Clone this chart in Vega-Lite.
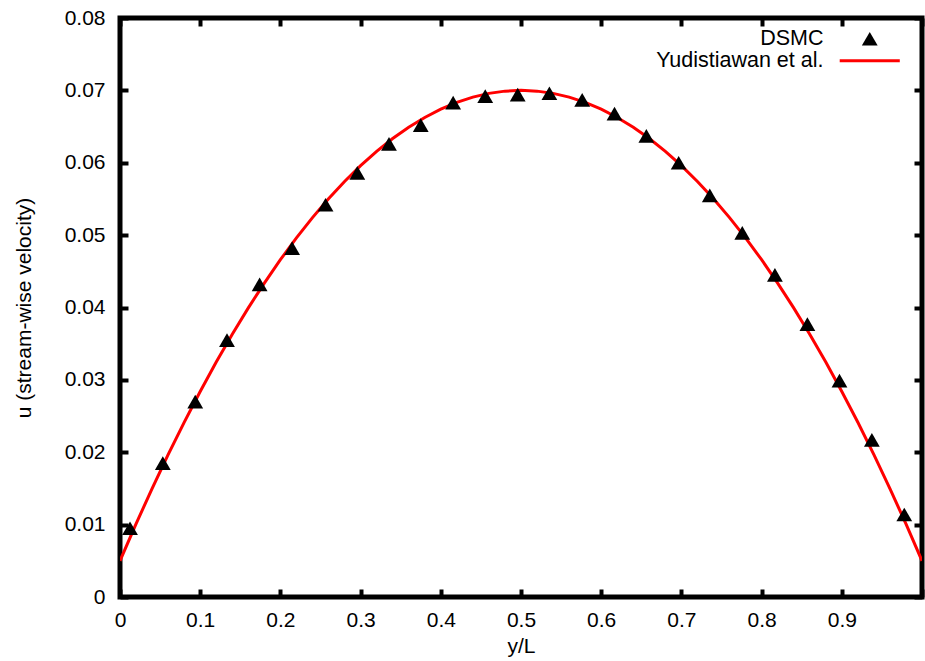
{
  "$schema": "https://vega.github.io/schema/vega-lite/v6.json",
  "width": 802,
  "height": 579,
  "autosize": {"type": "none"},
  "padding": {"left": 120, "top": 18, "right": 3, "bottom": 64},
  "background": "white",
  "config": {
    "view": {"stroke": "black", "strokeWidth": 5},
    "font": "Liberation Sans",
    "axis": {
      "grid": false,
      "domain": false,
      "tickColor": "black",
      "tickWidth": 4,
      "tickSize": -8,
      "labelColor": "black",
      "labelFont": "Liberation Sans",
      "labelFontSize": 21,
      "titleFont": "Liberation Sans",
      "titleFontSize": 21,
      "titleFontWeight": "normal",
      "titleColor": "black"
    }
  },
  "datasets": {
    "dsmc": [
      {"x": 0.0125, "u": 0.0095, "series": "DSMC"},
      {"x": 0.0534, "u": 0.0185, "series": "DSMC"},
      {"x": 0.0938, "u": 0.0270, "series": "DSMC"},
      {"x": 0.1334, "u": 0.0355, "series": "DSMC"},
      {"x": 0.1741, "u": 0.0432, "series": "DSMC"},
      {"x": 0.2146, "u": 0.0482, "series": "DSMC"},
      {"x": 0.2563, "u": 0.0542, "series": "DSMC"},
      {"x": 0.2959, "u": 0.0586, "series": "DSMC"},
      {"x": 0.3354, "u": 0.0626, "series": "DSMC"},
      {"x": 0.3750, "u": 0.0652, "series": "DSMC"},
      {"x": 0.4154, "u": 0.0683, "series": "DSMC"},
      {"x": 0.4554, "u": 0.0692, "series": "DSMC"},
      {"x": 0.4959, "u": 0.0694, "series": "DSMC"},
      {"x": 0.5354, "u": 0.0696, "series": "DSMC"},
      {"x": 0.5763, "u": 0.0687, "series": "DSMC"},
      {"x": 0.6166, "u": 0.0668, "series": "DSMC"},
      {"x": 0.6563, "u": 0.0637, "series": "DSMC"},
      {"x": 0.6966, "u": 0.0600, "series": "DSMC"},
      {"x": 0.7354, "u": 0.0555, "series": "DSMC"},
      {"x": 0.7759, "u": 0.0503, "series": "DSMC"},
      {"x": 0.8166, "u": 0.0445, "series": "DSMC"},
      {"x": 0.8571, "u": 0.0377, "series": "DSMC"},
      {"x": 0.8971, "u": 0.0299, "series": "DSMC"},
      {"x": 0.9375, "u": 0.0217, "series": "DSMC"},
      {"x": 0.9779, "u": 0.0114, "series": "DSMC"}
    ],
    "curve": [
      {"x": 0.00, "u": 0.005000, "series": "Yudistiawan et al."},
      {"x": 0.02, "u": 0.010096, "series": "Yudistiawan et al."},
      {"x": 0.04, "u": 0.014984, "series": "Yudistiawan et al."},
      {"x": 0.06, "u": 0.019664, "series": "Yudistiawan et al."},
      {"x": 0.08, "u": 0.024136, "series": "Yudistiawan et al."},
      {"x": 0.10, "u": 0.028400, "series": "Yudistiawan et al."},
      {"x": 0.12, "u": 0.032456, "series": "Yudistiawan et al."},
      {"x": 0.14, "u": 0.036304, "series": "Yudistiawan et al."},
      {"x": 0.16, "u": 0.039944, "series": "Yudistiawan et al."},
      {"x": 0.18, "u": 0.043376, "series": "Yudistiawan et al."},
      {"x": 0.20, "u": 0.046600, "series": "Yudistiawan et al."},
      {"x": 0.22, "u": 0.049616, "series": "Yudistiawan et al."},
      {"x": 0.24, "u": 0.052424, "series": "Yudistiawan et al."},
      {"x": 0.26, "u": 0.055024, "series": "Yudistiawan et al."},
      {"x": 0.28, "u": 0.057416, "series": "Yudistiawan et al."},
      {"x": 0.30, "u": 0.059600, "series": "Yudistiawan et al."},
      {"x": 0.32, "u": 0.061576, "series": "Yudistiawan et al."},
      {"x": 0.34, "u": 0.063344, "series": "Yudistiawan et al."},
      {"x": 0.36, "u": 0.064904, "series": "Yudistiawan et al."},
      {"x": 0.38, "u": 0.066256, "series": "Yudistiawan et al."},
      {"x": 0.40, "u": 0.067400, "series": "Yudistiawan et al."},
      {"x": 0.42, "u": 0.068336, "series": "Yudistiawan et al."},
      {"x": 0.44, "u": 0.069064, "series": "Yudistiawan et al."},
      {"x": 0.46, "u": 0.069584, "series": "Yudistiawan et al."},
      {"x": 0.48, "u": 0.069896, "series": "Yudistiawan et al."},
      {"x": 0.50, "u": 0.070000, "series": "Yudistiawan et al."},
      {"x": 0.52, "u": 0.069896, "series": "Yudistiawan et al."},
      {"x": 0.54, "u": 0.069584, "series": "Yudistiawan et al."},
      {"x": 0.56, "u": 0.069064, "series": "Yudistiawan et al."},
      {"x": 0.58, "u": 0.068336, "series": "Yudistiawan et al."},
      {"x": 0.60, "u": 0.067400, "series": "Yudistiawan et al."},
      {"x": 0.62, "u": 0.066256, "series": "Yudistiawan et al."},
      {"x": 0.64, "u": 0.064904, "series": "Yudistiawan et al."},
      {"x": 0.66, "u": 0.063344, "series": "Yudistiawan et al."},
      {"x": 0.68, "u": 0.061576, "series": "Yudistiawan et al."},
      {"x": 0.70, "u": 0.059600, "series": "Yudistiawan et al."},
      {"x": 0.72, "u": 0.057416, "series": "Yudistiawan et al."},
      {"x": 0.74, "u": 0.055024, "series": "Yudistiawan et al."},
      {"x": 0.76, "u": 0.052424, "series": "Yudistiawan et al."},
      {"x": 0.78, "u": 0.049616, "series": "Yudistiawan et al."},
      {"x": 0.80, "u": 0.046600, "series": "Yudistiawan et al."},
      {"x": 0.82, "u": 0.043376, "series": "Yudistiawan et al."},
      {"x": 0.84, "u": 0.039944, "series": "Yudistiawan et al."},
      {"x": 0.86, "u": 0.036304, "series": "Yudistiawan et al."},
      {"x": 0.88, "u": 0.032456, "series": "Yudistiawan et al."},
      {"x": 0.90, "u": 0.028400, "series": "Yudistiawan et al."},
      {"x": 0.92, "u": 0.024136, "series": "Yudistiawan et al."},
      {"x": 0.94, "u": 0.019664, "series": "Yudistiawan et al."},
      {"x": 0.96, "u": 0.014984, "series": "Yudistiawan et al."},
      {"x": 0.98, "u": 0.010096, "series": "Yudistiawan et al."},
      {"x": 1.00, "u": 0.005000, "series": "Yudistiawan et al."}
    ]
  },
  "resolve": {"axis": {"x": "independent", "y": "independent"}},
  "layer": [
    {
      "data": {"name": "curve"},
      "mark": {"type": "line", "strokeWidth": 3, "color": "#ff0000", "clip": true},
      "encoding": {
        "x": {
          "field": "x", "type": "quantitative",
          "scale": {"domain": [0, 1], "nice": false, "zero": false},
          "axis": {
            "orient": "bottom",
            "values": [0, 0.1, 0.2, 0.3, 0.4, 0.5, 0.6, 0.7, 0.8, 0.9, 1],
            "labelExpr": "datum.value >= 0.99 ? '' : format(datum.value, '~g')",
            "labelPadding": 20,
            "labelFlush": false,
            "labelOverlap": false,
            "title": "y/L",
            "titlePadding": 5
          }
        },
        "y": {
          "field": "u", "type": "quantitative",
          "scale": {"domain": [0, 0.08], "nice": false, "zero": false},
          "axis": {
            "orient": "left",
            "values": [0, 0.01, 0.02, 0.03, 0.04, 0.05, 0.06, 0.07, 0.08],
            "format": "~g",
            "labelPadding": 23,
            "labelFlush": false,
            "labelOverlap": false,
            "title": "u (stream-wise velocity)",
            "titlePadding": 30
          }
        },
        "order": {"field": "x", "type": "quantitative"}
      }
    },
    {
      "data": {"name": "dsmc"},
      "mark": {"type": "point", "filled": true, "opacity": 1, "size": 250, "clip": true},
      "encoding": {
        "x": {
          "field": "x", "type": "quantitative",
          "axis": {
            "orient": "top",
            "values": [0, 0.1, 0.2, 0.3, 0.4, 0.5, 0.6, 0.7, 0.8, 0.9, 1],
            "labels": false,
            "title": null
          }
        },
        "y": {
          "field": "u", "type": "quantitative",
          "axis": {
            "orient": "right",
            "values": [0, 0.01, 0.02, 0.03, 0.04, 0.05, 0.06, 0.07, 0.08],
            "labels": false,
            "title": null
          }
        },
        "color": {
          "field": "series", "type": "nominal",
          "scale": {"domain": ["DSMC", "Yudistiawan et al."], "range": ["black", "#ff0000"]},
          "legend": {
            "title": null,
            "orient": "none",
            "legendX": 739,
            "legendY": 10,
            "padding": 0,
            "symbolSize": 250,
            "labelFont": "Liberation Sans",
            "labelFontSize": 21.5,
            "labelColor": "black",
            "labelAlign": "right",
            "labelOffset": -57,
            "labelLimit": 400,
            "rowPadding": -2,
            "symbolOpacity": 1,
            "encode": {
              "symbols": {
                "update": {
                  "stroke": {"scale": "color", "field": "value"},
                  "strokeWidth": {"signal": "datum.value === 'DSMC' ? 0 : 3"}
                }
              }
            }
          }
        },
        "shape": {
          "field": "series", "type": "nominal",
          "scale": {"domain": ["DSMC", "Yudistiawan et al."], "range": ["triangle-up", "M-3.8,0H3.8"]},
          "legend": {
            "title": null,
            "orient": "none",
            "legendX": 739,
            "legendY": 10,
            "padding": 0,
            "symbolSize": 250,
            "labelFont": "Liberation Sans",
            "labelFontSize": 21.5,
            "labelColor": "black",
            "labelAlign": "right",
            "labelOffset": -57,
            "labelLimit": 400,
            "rowPadding": -2,
            "symbolOpacity": 1,
            "encode": {
              "symbols": {
                "update": {
                  "stroke": {"scale": "color", "field": "value"},
                  "strokeWidth": {"signal": "datum.value === 'DSMC' ? 0 : 3"}
                }
              }
            }
          }
        }
      }
    }
  ]
}
